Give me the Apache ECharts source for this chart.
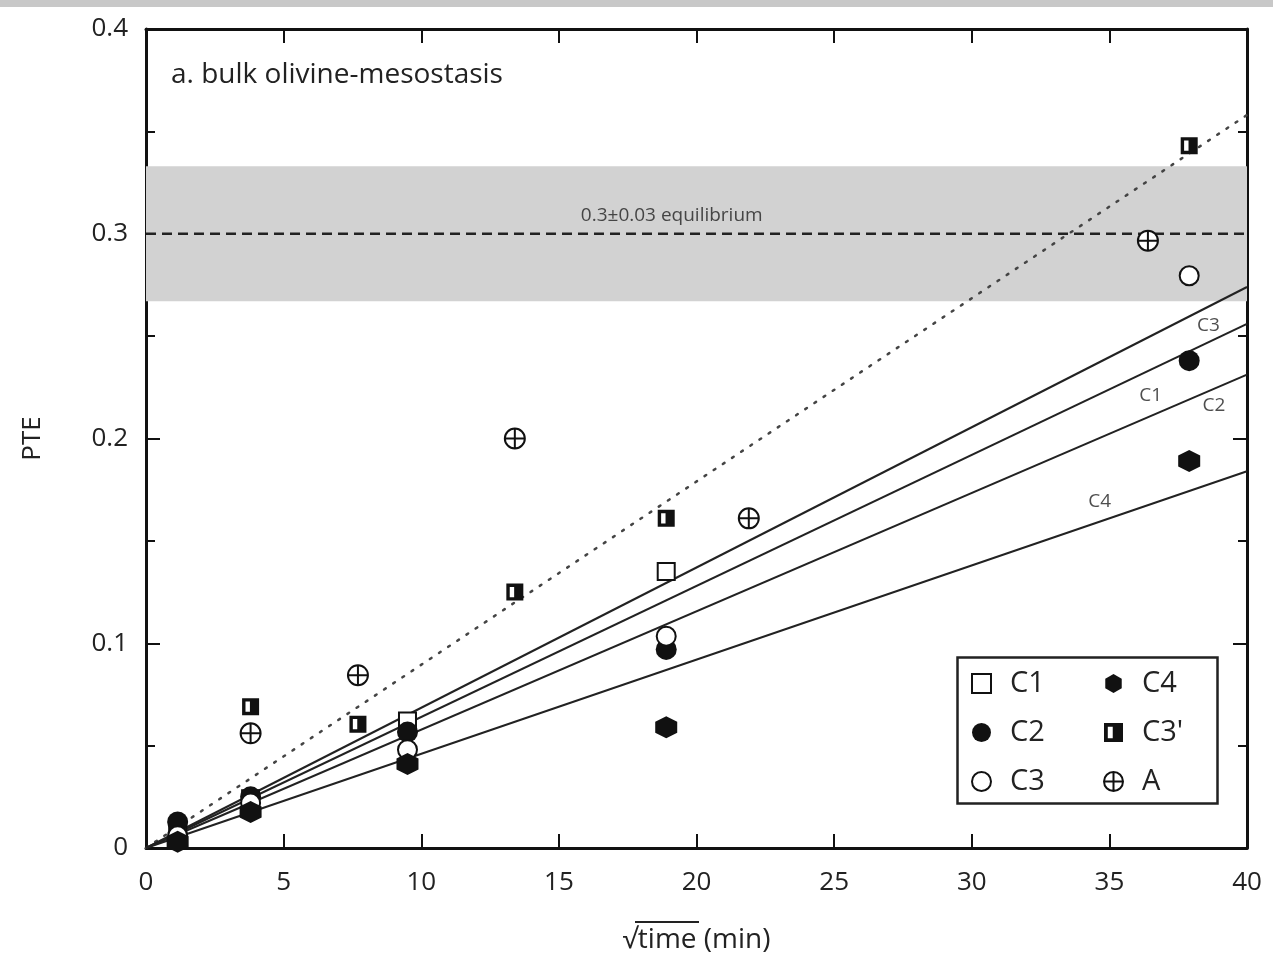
<!DOCTYPE html>
<html>
<head>
<meta charset="utf-8">
<script src="https://cdn.jsdelivr.net/npm/echarts@6/dist/echarts.min.js"></script>
<style>
html, body { margin: 0; background: #fff; }
#chart { width: 1273px; height: 959px; }
</style>
</head>
<body>
<div id="chart"></div>
<script>
// sqrt(time) of each experiment and measured PTE values
const timesC = [1.15, 3.8, 9.5, 18.9, 37.9]
const c1 = [0.008, 0.024, 0.062, 0.135, null]
const c2 = [0.0127, 0.025, 0.0566, 0.097, 0.238]
const c3 = [0.006, 0.022, 0.048, 0.1034, 0.2795]
const c4 = [0.003, 0.0176, 0.041, 0.059, 0.189]
const timesC3p = [3.8, 7.7, 13.4, 18.9, 37.9]
const c3p = [0.069, 0.0605, 0.125, 0.161, 0.343]
const timesA = [3.8, 7.7, 13.4, 21.9, 36.4]
const pteA = [0.056, 0.0844, 0.200, 0.161, 0.2966]

// fitted slopes (lines through origin)
const fitNames = ['C1', 'C2', 'C3', 'C4']
const fitSlopes = [0.0064, 0.00578, 0.00685, 0.0046]
const fitLabelX = [36.5, 38.8, 38.6, 34.65]
const fitLabelY = [0.221, 0.216, 0.255, 0.169]
const c3pSlope = 0.00895

const eqValue = 0.3
const eqHalf = 0.033
const xMax = 40

const font = '"Open Sans", "Noto Sans", sans-serif'

const halfSquare = 'path://M0,0L10,0L10,10L0,10Z M2,2L2,8L4.6,8L4.6,2Z'
const hexagon = 'path://M5,0L9.33,2.5L9.33,7.5L5,10L0.67,7.5L0.67,2.5Z'
const circlePlus = 'path://M0,5A5,5,0,1,1,10,5A5,5,0,1,1,0,5Z M5,0L5,10 M0,5L10,5'

function pairs(xs, ys) {
  return xs.map((x, i) => [x, ys[i]]).filter(p => p[1] != null)
}

const chart = echarts.init(document.getElementById('chart'))

const axisLine = { onZero: false, lineStyle: { color: '#111', width: 3 } }
const tick = { inside: true, length: 14, lineStyle: { color: '#111', width: 2 } }
const minor = { show: true, splitNumber: 2, length: 9, lineStyle: { color: '#111', width: 2 } }

const option = {
  animation: false,
  textStyle: { fontFamily: font },
  title: {
    text: 'a. bulk olivine-mesostasis',
    left: 166, top: 56,
    textStyle: { fontSize: 28, fontWeight: 'normal', color: '#222', fontFamily: font }
  },
  grid: { left: 146, right: 26, top: 29, bottom: 110 },
  legend: [
    {
      data: ['C1', 'C2', 'C3'],
      orient: 'vertical', left: 966, top: 664,
      itemWidth: 19, itemHeight: 19, itemGap: 20,
      textStyle: { fontSize: 29, color: '#222', padding: [0, 0, 0, 14] }
    },
    {
      data: ['C4', "C3'", 'A'],
      orient: 'vertical', left: 1098, top: 664,
      itemWidth: 19, itemHeight: 19, itemGap: 20,
      textStyle: { fontSize: 29, color: '#222', padding: [0, 0, 0, 14] }
    }
  ],
  graphic: [
    { type: 'rect', left: 0, top: 0, shape: { width: 1273, height: 7 }, style: { fill: '#c8c8c8' } },
    { type: 'rect', left: 955, top: 655, shape: { width: 260, height: 146 }, style: { fill: 'none', stroke: '#222', lineWidth: 2.5 }, z: 10 },
    // overline of the square root sign
    { type: 'line', shape: { x1: 635, y1: 922, x2: 699, y2: 922 }, style: { stroke: '#222', lineWidth: 2 } }
  ],
  xAxis: [
    {
      type: 'value', min: 0, max: xMax, interval: 5,
      axisLine, axisTick: tick, splitLine: { show: false },
      axisLabel: { fontSize: 26, color: '#222', margin: 22 },
      name: '√time (min)', nameLocation: 'middle', nameGap: 78,
      nameTextStyle: { fontSize: 28, color: '#222' }
    },
    {
      type: 'value', position: 'top', min: 0, max: xMax, interval: 5,
      axisLine, axisTick: tick, splitLine: { show: false },
      axisLabel: { show: false }
    }
  ],
  yAxis: [
    {
      type: 'value', min: 0, max: 0.4, interval: 0.1,
      axisLine, axisTick: tick, minorTick: minor, splitLine: { show: false },
      axisLabel: { fontSize: 26, color: '#222', margin: 18 },
      name: 'PTE', nameLocation: 'middle', nameGap: 100, nameRotate: 90,
      nameTextStyle: { fontSize: 26, color: '#222' }
    },
    {
      type: 'value', position: 'right', min: 0, max: 0.4, interval: 0.1,
      axisLine, axisTick: tick, minorTick: minor, splitLine: { show: false },
      axisLabel: { show: false }
    }
  ],
  series: [
    {
      name: 'equilibrium', type: 'line', symbol: 'none', z: 1,
      data: [[0, eqValue], [xMax, eqValue]],
      lineStyle: { color: '#222', width: 2.5, type: [10, 6] },
      markArea: {
        silent: true,
        itemStyle: { color: '#d2d2d2' },
        data: [[{ yAxis: eqValue - eqHalf }, { yAxis: eqValue + eqHalf }]]
      }
    },
    {
      name: 'C3p fit', type: 'line', symbol: 'none', z: 2,
      data: [[0, 0], [xMax, c3pSlope * xMax]],
      lineStyle: { color: '#444', width: 2.5, type: [2, 9], cap: 'round' }
    },
    ...fitNames.map((n, i) => ({
      name: n + ' fit', type: 'line', symbol: 'none', z: 2,
      data: [[0, 0], [xMax, fitSlopes[i] * xMax]],
      lineStyle: { color: '#222', width: 2 }
    })),
    {
      name: 'labels', type: 'scatter', symbolSize: 0, z: 3, silent: true,
      data: [
        ...fitNames.map((n, i) => ({ value: [fitLabelX[i], fitLabelY[i]], name: n })),
        { value: [19.1, 0.309], name: '0.3±0.03 equilibrium' }
      ],
      label: { show: true, position: 'inside', formatter: '{b}', fontSize: 19, color: '#222' }
    },
    {
      name: 'C1', type: 'scatter', z: 5, symbol: 'rect', symbolSize: 17,
      data: pairs(timesC, c1),
      itemStyle: { color: '#fff', borderColor: '#111', borderWidth: 2, opacity: 1 }
    },
    {
      name: 'C2', type: 'scatter', z: 5, symbol: 'circle', symbolSize: 21,
      data: pairs(timesC, c2),
      itemStyle: { color: '#111', opacity: 1 }
    },
    {
      name: 'C3', type: 'scatter', z: 5, symbol: 'circle', symbolSize: 19,
      data: pairs(timesC, c3),
      itemStyle: { color: '#fff', borderColor: '#111', borderWidth: 2, opacity: 1 }
    },
    {
      name: 'C4', type: 'scatter', z: 5, symbol: hexagon, symbolSize: 22,
      data: pairs(timesC, c4),
      itemStyle: { color: '#111', opacity: 1 }
    },
    {
      name: "C3'", type: 'scatter', z: 5, symbol: halfSquare, symbolSize: 17,
      data: pairs(timesC3p, c3p),
      itemStyle: { color: '#111', opacity: 1 }
    },
    {
      name: 'A', type: 'scatter', z: 5, symbol: circlePlus, symbolSize: 20,
      data: pairs(timesA, pteA),
      itemStyle: { color: '#fff', borderColor: '#111', borderWidth: 2, opacity: 1 }
    }
  ]
}

chart.setOption(option)
</script>
</body>
</html>
